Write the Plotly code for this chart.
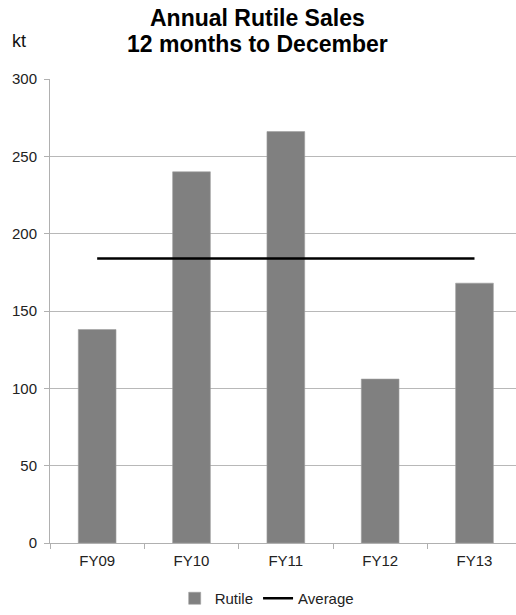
import plotly.graph_objects as go

categories = ["FY09", "FY10", "FY11", "FY12", "FY13"]
rutile = [138, 240, 266, 106, 168]
average = [184, 184, 184, 184, 184]
y_ticks = [0, 50, 100, 150, 200, 250, 300]
title_lines = ["Annual Rutile Sales", "12 months to December"]
unit_label = "kt"

FONT = "Liberation Sans, Arial, sans-serif"

fig = go.Figure()
fig.add_trace(go.Bar(
    x=categories, y=rutile, name="Rutile",
    marker=dict(color="#808080", line=dict(color="#a0a0a0", width=0.6)),
    width=0.4,
))
fig.add_trace(go.Scatter(
    x=categories, y=average, name="Average", mode="lines",
    line=dict(color="#000000", width=2.5),
))

fig.update_layout(
    width=516, height=615,
    margin=dict(l=50, r=0, t=79, b=71),
    paper_bgcolor="white", plot_bgcolor="white",
    font=dict(family=FONT, size=15, color="#222222"),
    showlegend=True,
    legend=dict(
        orientation="h", x=0.465, xanchor="center", y=-0.12, yanchor="middle",
        font=dict(family=FONT, size=15, color="#222222"),
        traceorder="normal", itemwidth=30,
    ),
    bargap=0.6,
)

fig.update_xaxes(
    type="category", range=[-0.5, 4.44],
    showline=True, linecolor="#b0b0b0", linewidth=1,
    ticks="outside", tickson="boundaries", ticklen=5, tickcolor="#b0b0b0",
    showgrid=False, tickfont=dict(size=15, color="#222222"),
    ticklabelstandoff=4,
)
fig.update_yaxes(
    range=[0, 300], tickvals=y_ticks,
    showline=True, linecolor="#b0b0b0", linewidth=1,
    ticks="outside", ticklen=5, tickcolor="#b0b0b0",
    showgrid=True, gridcolor="#b8b8b8", gridwidth=1,
    zeroline=False, tickfont=dict(size=15, color="#222222"),
    ticklabelstandoff=4,
)

for txt, yy in zip(title_lines, [1.099, 1.043]):
    fig.add_annotation(
        text=f"<b>{txt}</b>", xref="paper", yref="paper", x=0.446, y=yy,
        xanchor="center", yanchor="bottom", showarrow=False,
        font=dict(family=FONT, size=23, color="#000000"),
    )

fig.add_annotation(
    text=unit_label, xref="paper", yref="paper", x=-0.086, y=1.082,
    xanchor="left", yanchor="middle", showarrow=False,
    font=dict(family=FONT, size=18, color="#111111"),
)

fig.write_html(
    "out.html",
    config={"displayModeBar": False},
    post_script="document.body.style.margin='0px';",
)
